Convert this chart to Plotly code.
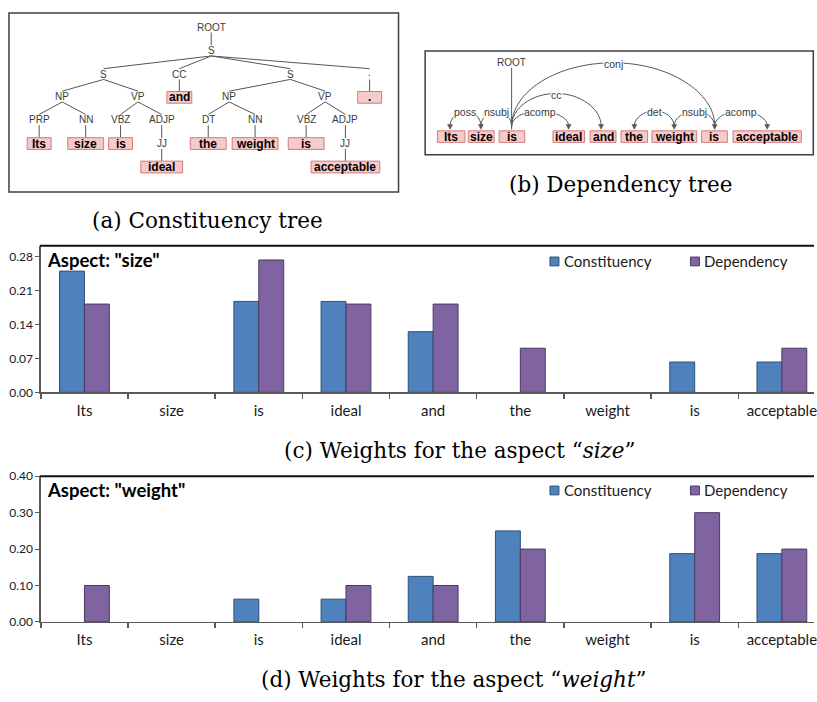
import plotly.graph_objects as go

# ---------------- data ----------------
words = ["Its", "size", "is", "ideal", "and", "the", "weight", "is", "acceptable"]
size_constituency = [0.25, 0, 0.1875, 0.1875, 0.125, 0, 0, 0.0625, 0.0625]
size_dependency = [0.182, 0, 0.273, 0.182, 0.182, 0.091, 0, 0, 0.091]
weight_constituency = [0, 0, 0.0625, 0.0625, 0.125, 0.25, 0, 0.1875, 0.1875]
weight_dependency = [0.1, 0, 0, 0.1, 0.1, 0.2, 0, 0.3, 0.2]
size_ticks = [0.00, 0.07, 0.14, 0.21, 0.28]
weight_ticks = [0.00, 0.10, 0.20, 0.30, 0.40]
series_names = ["Constituency", "Dependency"]

# constituency tree: (label, parent index or None, is_word)
const_nodes = [
    ("ROOT", None, False),   # 0
    ("S", 0, False),         # 1
    ("S", 1, False),         # 2
    ("CC", 1, False),        # 3
    ("S", 1, False),         # 4
    (".", 1, False),         # 5
    ("NP", 2, False),        # 6
    ("VP", 2, False),        # 7
    ("and", 3, True),        # 8
    ("NP", 4, False),        # 9
    ("VP", 4, False),        # 10
    (".", 5, True),          # 11
    ("PRP", 6, False),       # 12
    ("NN", 6, False),        # 13
    ("VBZ", 7, False),       # 14
    ("ADJP", 7, False),      # 15
    ("DT", 9, False),        # 16
    ("NN", 9, False),        # 17
    ("VBZ", 10, False),      # 18
    ("ADJP", 10, False),     # 19
    ("Its", 12, True),       # 20
    ("size", 13, True),      # 21
    ("is", 14, True),        # 22
    ("JJ", 15, False),       # 23
    ("the", 16, True),       # 24
    ("weight", 17, True),    # 25
    ("is", 18, True),        # 26
    ("JJ", 19, False),       # 27
    ("ideal", 23, True),     # 28
    ("acceptable", 27, True),  # 29
]
# dependency arcs: (head word index, dependent word index, relation)
dep_arcs = [
    (1, 0, "poss"), (2, 1, "nsubj"), (2, 3, "acomp"), (2, 4, "cc"),
    (2, 7, "conj"), (6, 5, "det"), (7, 6, "nsubj"), (7, 8, "acomp"),
]
dep_root = 2

# ---------------- layout helpers (pixels of the 817x702 page) ----------------
W, H = 817, 702


def X(x):
    return x / W


def Y(y):
    return 1 - y / H


BLUE, BLUE_EDGE = "#4F81BD", "#2E4F78"
PURPLE, PURPLE_EDGE = "#8064A2", "#4A3862"
PINK, PINK_EDGE = "#F7CACA", "#D27C7C"
NODE_COL = "#3a3a3a"
EDGE_COL = "#555555"
SANS = "Lato"
ARIAL = "Liberation Sans"
SERIF = "DejaVu Serif"

fig = go.Figure()
shapes = []
ann = []

# ---------------- bar charts ----------------
cat_w = 87.5
x_left = 41
xr = [-0.5, -0.5 + (W - x_left) / cat_w]
xs = list(range(len(words)))

charts = [
    dict(xa="x", ya="y", top=243, bottom=392.7, ymax=0.28 * (392.7 - 243) / (392.7 - 254),
         ticks=size_ticks, con=size_constituency, dep=size_dependency,
         title='Aspect: "size"', legy=259),
    dict(xa="x2", ya="y2", top=478.5, bottom=627.3, ymax=0.40,
         ticks=weight_ticks, con=weight_constituency, dep=weight_dependency,
         title='Aspect: "weight"', legy=493),
]


def edge_widths(vals):
    return [1 if v else 0 for v in vals]


for i, c in enumerate(charts):
    fig.add_trace(go.Bar(x=xs, y=c["con"], name=series_names[0], xaxis=c["xa"], yaxis=c["ya"],
                         marker=dict(color=BLUE, line=dict(color=BLUE_EDGE, width=edge_widths(c["con"]))),
                         showlegend=False))
    fig.add_trace(go.Bar(x=xs, y=c["dep"], name=series_names[1], xaxis=c["xa"], yaxis=c["ya"],
                         marker=dict(color=PURPLE, line=dict(color=PURPLE_EDGE, width=edge_widths(c["dep"]))),
                         showlegend=False))
    xkey = "xaxis" if i == 0 else "xaxis2"
    ykey = "yaxis" if i == 0 else "yaxis2"
    fig.layout[xkey] = dict(
        domain=[X(x_left), 1], range=xr, anchor=c["ya"],
        tickmode="array", tickvals=xs, ticktext=words,
        ticks="outside", ticklen=0, tickcolor="#595959",
        minor=dict(tickmode="linear", tick0=0.5, dtick=1, ticks="outside", ticklen=5,
                   tickcolor="#595959", tickwidth=1.5),
        showline=True, linecolor="#595959", linewidth=1.5,
        showgrid=False, zeroline=False, fixedrange=True, ticklabeloverflow="allow",
        tickfont=dict(family=SANS, size=15, color="#1a1a1a"), ticklabelstandoff=4,
    )
    fig.layout[ykey] = dict(
        domain=[Y(c["bottom"]), Y(c["top"])], range=[0, c["ymax"]], anchor=c["xa"],
        tickmode="array", tickvals=c["ticks"], tickformat=".2f",
        ticks="outside", ticklen=4, tickcolor="#595959",
        showline=True, linecolor="#595959", linewidth=1.5,
        showgrid=False, zeroline=False, fixedrange=True,
        tickfont=dict(family=SANS, size=12, color="#1a1a1a"),
    )
    # top frame line
    shapes.append(dict(type="line", xref="paper", yref="paper",
                       x0=X(x_left - 1), x1=1, y0=Y(c["top"]), y1=Y(c["top"]),
                       line=dict(color="#111111", width=2)))
    # aspect title
    ann.append(dict(text="<b>" + c["title"] + "</b>", xref="paper", yref="paper",
                    x=X(45), y=Y(c["top"] + 14.5), xanchor="left", yanchor="middle",
                    showarrow=False, font=dict(family=SANS, size=18.5, color="black")))
    # manual legend
    for lx, name, col, edge in [(552, series_names[0], BLUE, BLUE_EDGE),
                                (693, series_names[1], PURPLE, PURPLE_EDGE)]:
        shapes.append(dict(type="rect", xref="paper", yref="paper",
                           x0=X(lx), x1=X(lx + 9), y0=Y(c["legy"] + 4.5), y1=Y(c["legy"] - 4.5),
                           fillcolor=col, line=dict(color=edge, width=1)))
        ann.append(dict(text=name, xref="paper", yref="paper", x=X(lx + 12), y=Y(c["legy"]),
                        xanchor="left", yanchor="middle", showarrow=False,
                        font=dict(family=SANS, size=15, color="#1a1a1a")))

fig.update_layout(barmode="group", bargap=0.4286, bargroupgap=0)

# ---------------- constituency tree ----------------
shapes.append(dict(type="rect", xref="paper", yref="paper", x0=X(9), x1=X(400), y0=Y(188), y1=Y(5),
                   line=dict(color="#404040", width=1.5), fillcolor="rgba(0,0,0,0)"))
const_pos = {
    0: (212, 19.5), 1: (212, 43.5),
    2: (104, 67.5), 3: (180, 67.5), 4: (291.5, 67.5), 5: (371, 67.5),
    6: (62.5, 90.5), 7: (138.5, 90.5), 8: (180, 91.3), 9: (230, 90.5), 10: (326.5, 90.5), 11: (371, 91.3),
    12: (39.3, 114.3), 13: (86, 114.3), 14: (121, 114.3), 15: (162.3, 114.3),
    16: (209, 114.3), 17: (256, 114.3), 18: (307.3, 114.3), 19: (346.7, 114.3),
    20: (39.3, 138.5), 21: (86, 138.5), 22: (121, 138.5), 23: (162.3, 138.5),
    24: (209, 138.5), 25: (256, 138.5), 26: (307.3, 138.5), 27: (346.7, 138.5),
    28: (162.3, 162.5), 29: (346.7, 162.5),
}
word_box_w = {8: 25, 11: 24, 20: 24, 21: 36, 22: 24, 24: 36, 25: 46, 26: 36, 28: 42, 29: 69}
for idx, (lab, par, is_word) in enumerate(const_nodes):
    x, y = const_pos[idx]
    if par is not None:
        px, py = const_pos[par]
        shapes.append(dict(type="line", xref="paper", yref="paper",
                           x0=X(px), y0=Y(py + 5.5), x1=X(x), y1=Y(y - (6 if is_word else 5.5)),
                           line=dict(color=EDGE_COL, width=1)))
    if is_word:
        bw = word_box_w[idx]
        shapes.append(dict(type="rect", xref="paper", yref="paper",
                           x0=X(x - bw / 2), x1=X(x + bw / 2), y0=Y(y + 6), y1=Y(y - 6),
                           fillcolor=PINK, line=dict(color=PINK_EDGE, width=1)))
        ann.append(dict(text="<b>" + lab + "</b>", xref="paper", yref="paper", x=X(x), y=Y(y),
                        xanchor="center", yanchor="middle", showarrow=False,
                        font=dict(family=ARIAL, size=12, color="black")))
    else:
        ann.append(dict(text=lab, xref="paper", yref="paper", x=X(x), y=Y(y - (2 if lab == "." else 0)),
                        xanchor="center", yanchor="middle", showarrow=False,
                        font=dict(family=ARIAL, size=10, color=NODE_COL)))

# ---------------- dependency tree ----------------
shapes.append(dict(type="rect", xref="paper", yref="paper", x0=X(426.7), x1=X(816.3), y0=Y(150), y1=Y(44),
                   line=dict(color="#404040", width=1.5), fillcolor="rgba(0,0,0,0)"))
dep_boxes = [(439, 466.7), (470, 496), (501, 526.7), (555, 586.7), (592.3, 618.3),
             (623.3, 650), (654.3, 699.3), (704, 730), (735.7, 804.3)]
dep_anchor = [451.7, 482.7, 513.5, 570.7, 603.3, 636.7, 676.7, 717.3, 770]
box_y0, box_y1 = 125.5, 137.3
for (x0, x1), w in zip(dep_boxes, words):
    shapes.append(dict(type="rect", xref="paper", yref="paper", x0=X(x0), x1=X(x1),
                       y0=Y(box_y1), y1=Y(box_y0), fillcolor=PINK, line=dict(color=PINK_EDGE, width=1)))
    ann.append(dict(text="<b>" + w + "</b>", xref="paper", yref="paper", x=X((x0 + x1) / 2),
                    y=Y((box_y0 + box_y1) / 2), xanchor="center", yanchor="middle", showarrow=False,
                    font=dict(family=ARIAL, size=12, color="black")))

arc_top = {"cc": 87.3, "conj": 56}
base_head, base_dep = 121, 124


def P(x, y):
    return f"{X(x):.5f},{Y(y):.5f}"


for h, d, rel in dep_arcs:
    xh, xd = dep_anchor[h], dep_anchor[d]
    top = arc_top.get(rel, 105)
    s = 1 if xd > xh else -1
    r = min(abs(xd - xh) / 2, (base_dep - top) * 1.6)
    k = 0.552
    h1 = base_head - top
    h2 = base_dep - top
    path = (f"M {P(xh, base_head)} C {P(xh, base_head - k * h1)} {P(xh + s * r * (1 - k), top)} {P(xh + s * r, top)} "
            f"L {P(xd - s * r, top)} C {P(xd - s * r * (1 - k), top)} {P(xd, base_dep - k * h2)} {P(xd, base_dep - 4)}")
    shapes.append(dict(type="path", xref="paper", yref="paper", path=path,
                       line=dict(color=EDGE_COL, width=1)))
    # arrowhead
    ah = f"M {P(xd - 2.5, base_dep - 5)} L {P(xd + 2.5, base_dep - 5)} L {P(xd, base_dep)} Z"
    shapes.append(dict(type="path", xref="paper", yref="paper", path=ah,
                       fillcolor=EDGE_COL, line=dict(color=EDGE_COL, width=0.5)))
    ann.append(dict(text=rel, xref="paper", yref="paper", x=X((xh + xd) / 2), y=Y(top + 1.5),
                    xanchor="center", yanchor="middle", showarrow=False, bgcolor="white", borderpad=0,
                    font=dict(family=ARIAL, size=10.5, color=NODE_COL)))

rx = dep_anchor[dep_root]
shapes.append(dict(type="line", xref="paper", yref="paper", x0=X(rx), x1=X(rx), y0=Y(61), y1=Y(base_dep),
                   line=dict(color=EDGE_COL, width=1)))
ann.append(dict(text="ROOT", xref="paper", yref="paper", x=X(rx), y=Y(55.5), xanchor="center",
                yanchor="middle", showarrow=False, font=dict(family=ARIAL, size=10, color=NODE_COL)))

# ---------------- captions ----------------
captions = [
    ("(a) Constituency tree", 208, 217),
    ("(b) Dependency tree", 623, 180),
    ("(c) Weights for the aspect “<i>size</i>”", 462, 452),
    ("(d) Weights for the aspect “<i>weight</i>”", 456, 686),
]
for t, cx, cy in captions:
    ann.append(dict(text=t, xref="paper", yref="paper", x=X(cx), y=Y(cy), xanchor="center",
                    yanchor="middle", showarrow=False, font=dict(family=SERIF, size=21.5, color="black")))

fig.update_layout(
    width=W, height=H, margin=dict(l=0, r=0, t=0, b=0),
    paper_bgcolor="white", plot_bgcolor="white",
    shapes=shapes, annotations=ann, showlegend=False, hovermode=False,
)
fig.write_html("out.html", config={"displayModeBar": False, "staticPlot": True},
               post_script="document.body.style.margin='0';document.body.style.overflow='hidden';")
